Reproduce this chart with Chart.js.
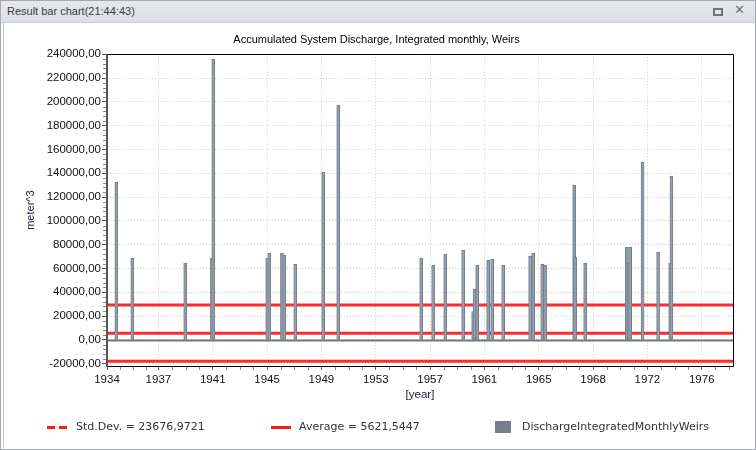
<!DOCTYPE html>
<html>
<head>
    <title>Result bar chart</title>
    <script src="https://cdn.jsdelivr.net/npm/chart.js"></script>
    <style>
        body { margin: 0; background: #fff; }
        .win {
            position: absolute; left: 0; top: 0;
            width: 756px; height: 450px;
            box-sizing: border-box;
            border: 1px solid #a4a9b1;
            background: #fff;
            font-family: "Liberation Sans", Arial, sans-serif;
        }
        .titlebar {
            position: absolute; left: 0; top: 0; right: 0; height: 21px;
            background: linear-gradient(#e6e8eb, #dcdfe3);
            border-bottom: 1px solid #c9cdd3;
        }
        .titlebar span.t {
            position: absolute; left: 6px; top: 4px;
            font-size: 11px; color: #3a3a3a;
        }
        .btn-max {
            position: absolute; left: 712px; top: 7px;
            width: 6px; height: 4px; border: 2px solid #6f747b;
        }
        .btn-close {
            position: absolute; left: 733px; top: 1px;
            font: bold 13px "DejaVu Sans", sans-serif; color: #6f747b;
        }
        .chart-box {
            position: absolute; left: 2px; top: 21px;
            width: 749px; height: 425px;
            border-left: 1px solid #c4c8ce;
        }
        .legend {
            position: absolute; top: 419px; height: 14px;
            font: 11px "DejaVu Sans", sans-serif; color: #333;
        }
        .legend .txt { position: absolute; top: 0; white-space: nowrap; }
        .dash {
            position: absolute; top: 6px; width: 20px; height: 3px;
            background: repeating-linear-gradient(90deg, #ff1a1a 0 8px, transparent 8px 12px);
        }
        .solid { position: absolute; top: 6px; width: 20px; height: 3px; background: #ff1a1a; }
        .square { position: absolute; top: 1px; width: 16px; height: 12px; background: #737f8e; }
    </style>
</head>
<body>
<div class="win">
    <div class="titlebar">
        <span class="t">Result bar chart(21:44:43)</span>
        <div class="btn-max"></div>
        <div class="btn-close">✕</div>
    </div>
    <div class="chart-box">
        <canvas id="barChart"></canvas>
    </div>
    <div class="legend" style="left:0;width:756px">
        <div class="dash" style="left:46px"></div>
        <div class="txt" style="left:75px">Std.Dev. = 23676,9721</div>
        <div class="solid" style="left:270px"></div>
        <div class="txt" style="left:298px">Average = 5621,5447</div>
        <div class="square" style="left:494px"></div>
        <div class="txt" style="left:521px">DischargeIntegratedMonthlyWeirs</div>
    </div>
</div>

<script>
    // bar positions (decimal years) and monthly discharge values
    const barYears = [1934.67, 1935.82, 1939.63, 1941.55, 1941.65, 1945.53, 1945.68, 1946.59, 1946.76,
        1947.55, 1949.56, 1950.64, 1956.61, 1957.47, 1958.34, 1959.63, 1960.35, 1960.45, 1960.64,
        1961.43, 1961.72, 1962.51, 1964.45, 1964.67, 1965.32, 1965.53, 1967.62, 1967.69, 1968.41,
        1971.41, 1971.53, 1971.65, 1972.54, 1973.66, 1974.53, 1974.62];
    const barValues = [132500, 68600, 64400, 68600, 235800, 68600, 72800, 72800, 71100,
        63600, 140900, 197200, 68600, 62700, 72000, 75400, 23800, 42600, 62700,
        67000, 67800, 62700, 70300, 72800, 63600, 62700, 130000, 69400, 64400,
        77900, 64400, 77900, 149300, 73700, 64400, 137500];

    // statistics from the legend
    const average = 5621.5447;
    const stdDev = 23676.9721;

    // x axis range and tick labels
    const xMin = 1934;
    const xMax = 1979.05;
    const xTickPos = [1934, 1937.7, 1941.61, 1945.52, 1949.43, 1953.34, 1957.25, 1961.16, 1965.07, 1968.98, 1972.89, 1976.8];
    const xTickLabels = ['1934', '1937', '1941', '1945', '1949', '1953', '1957', '1961', '1965', '1968', '1972', '1976'];

    // y axis range and ticks
    const yMin = -22000;
    const yMax = 240000;
    const yTickValues = [-20000, 0, 20000, 40000, 60000, 80000, 100000, 120000, 140000, 160000, 180000, 200000, 220000, 240000];

    const bars = barYears.map((x, i) => ({ x: x, y: barValues[i] }));
    const hLine = v => [{ x: xMin, y: v }, { x: xMax, y: v }];

    // frame, zero line and minor ticks
    const framePlugin = {
        id: 'framePlugin',
        beforeDatasetsDraw(chart) {
            const { ctx, chartArea: a, scales: { y } } = chart;
            const y0 = Math.round(y.getPixelForValue(0)) + 0.5;
            ctx.save();
            ctx.strokeStyle = '#6b7888';
            ctx.lineWidth = 2;
            ctx.beginPath();
            ctx.moveTo(a.left, y0);
            ctx.lineTo(a.right, y0);
            ctx.stroke();
            ctx.restore();
        },
        afterDraw(chart) {
            const { ctx, chartArea: a, scales: { x, y } } = chart;
            ctx.save();
            ctx.strokeStyle = '#000';
            ctx.lineWidth = 1;
            ctx.beginPath();
            ctx.moveTo(a.left, Math.round(a.top) + 0.5);
            ctx.lineTo(Math.round(a.right) + 0.5, Math.round(a.top) + 0.5);
            ctx.lineTo(Math.round(a.right) + 0.5, Math.round(a.bottom) + 0.5);
            ctx.lineTo(a.left, Math.round(a.bottom) + 0.5);
            ctx.stroke();
            ctx.strokeStyle = '#555';
            ctx.lineWidth = 2;
            ctx.beginPath();
            ctx.moveTo(Math.round(a.left), a.top);
            ctx.lineTo(Math.round(a.left), a.bottom + 1);
            ctx.stroke();

            // minor ticks
            ctx.strokeStyle = '#8a8a8a';
            ctx.lineWidth = 1;
            ctx.beginPath();
            for (let i = 0; i + 1 < yTickValues.length; i++) {
                const step = (yTickValues[i + 1] - yTickValues[i]) / 5;
                for (let k = 1; k < 5; k++) {
                    const py = Math.round(y.getPixelForValue(yTickValues[i] + step * k)) + 0.5;
                    ctx.moveTo(a.left - 4, py);
                    ctx.lineTo(a.left - 1, py);
                }
            }
            for (let i = 0; i < xTickPos.length; i++) {
                const a0 = xTickPos[i];
                const step = (i + 1 < xTickPos.length ? xTickPos[i + 1] : a0 + (xTickPos[i] - xTickPos[i - 1])) - a0;
                for (let k = 1; k < 4; k++) {
                    const v = a0 + step * k / 4;
                    if (v > xMax) break;
                    const px = Math.round(x.getPixelForValue(v)) + 0.5;
                    ctx.moveTo(px, a.bottom + 1);
                    ctx.lineTo(px, a.bottom + 4);
                }
            }
            ctx.stroke();
            ctx.restore();
        }
    };

    const ctx = document.getElementById('barChart').getContext('2d');
    new Chart(ctx, {
        type: 'bar',
        data: {
            datasets: [
                {
                    label: 'DischargeIntegratedMonthlyWeirs',
                    data: bars,
                    backgroundColor: '#97a2ae',
                    borderColor: '#6e7b89',
                    borderWidth: 1,
                    borderSkipped: false,
                    barThickness: 3,
                    order: 1
                },
                {
                    type: 'line',
                    label: 'Std.Dev. upper',
                    data: hLine(average + stdDev),
                    borderColor: '#ff2b2b',
                    borderWidth: 3,
                    pointRadius: 0,
                    order: 2
                },
                {
                    type: 'line',
                    label: 'Average',
                    data: hLine(average),
                    borderColor: '#ff2b2b',
                    borderWidth: 3,
                    pointRadius: 0,
                    order: 2
                },
                {
                    type: 'line',
                    label: 'Std.Dev. lower',
                    data: hLine(average - stdDev),
                    borderColor: '#ff2b2b',
                    borderWidth: 3,
                    pointRadius: 0,
                    order: 2
                }
            ]
        },
        options: {
            responsive: true,
            maintainAspectRatio: false,
            animation: false,
            layout: { padding: { left: 16, right: 20, top: 0, bottom: 41 } },
            plugins: {
                legend: { display: false },
                tooltip: { enabled: false },
                title: {
                    display: true,
                    text: 'Accumulated System Discharge, Integrated monthly, Weirs',
                    color: '#000',
                    font: { family: 'Liberation Sans', size: 11, weight: 'normal' },
                    padding: { top: 11, bottom: 8 }
                }
            },
            scales: {
                x: {
                    type: 'linear',
                    min: xMin,
                    max: xMax,
                    offset: false,
                    afterFit: s => { s.height = 40; },
                    afterBuildTicks: s => { s.ticks = xTickPos.map(v => ({ value: v })); },
                    grid: {
                        offset: false,
                        color: '#cfcfcf',
                        tickColor: '#666',
                        tickLength: 4,
                        tickBorderDash: []
                    },
                    border: { display: false, dash: [1, 2] },
                    ticks: {
                        autoSkip: false,
                        maxRotation: 0,
                        padding: 3,
                        color: '#111',
                        font: { family: 'Liberation Sans', size: 11.5 },
                        callback: (v, i) => xTickLabels[i]
                    },
                    title: {
                        display: true,
                        text: '[year]',
                        color: '#1a1a3a',
                        font: { family: 'Liberation Sans', size: 11.5 },
                        padding: { top: 2, bottom: 4 }
                    }
                },
                y: {
                    min: yMin,
                    max: yMax,
                    afterFit: s => { s.width = 87; },
                    afterBuildTicks: s => { s.ticks = yTickValues.map(v => ({ value: v })); },
                    grid: {
                        color: '#cfcfcf',
                        tickColor: '#555',
                        tickLength: 5,
                        tickBorderDash: []
                    },
                    border: { display: false, dash: [1, 2] },
                    ticks: {
                        autoSkip: false,
                        padding: 1,
                        color: '#111',
                        font: { family: 'Liberation Sans', size: 11.5 },
                        callback: v => v.toFixed(2).replace('.', ',')
                    },
                    title: {
                        display: true,
                        text: 'meter^3',
                        color: '#1a1a3a',
                        font: { family: 'Liberation Sans', size: 11 },
                        padding: { top: 4, bottom: 4 }
                    }
                }
            }
        },
        plugins: [framePlugin]
    });
</script>
</body>
</html>
